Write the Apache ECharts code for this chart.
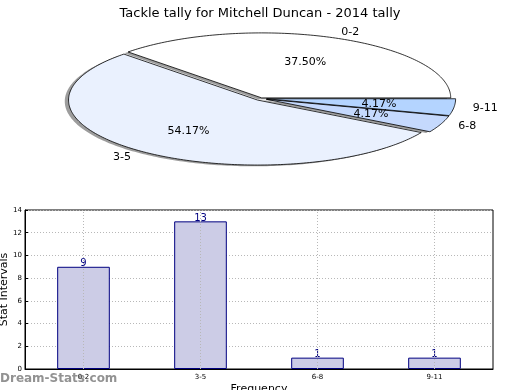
<!DOCTYPE html>
<html>
<head>
<meta charset="utf-8">
<script src="https://cdn.jsdelivr.net/npm/echarts@6/dist/echarts.min.js"></script>
<style>html,body{margin:0;padding:0;background:#fff}#c{width:520px;height:390px}</style>
</head>
<body>
<div id="c"></div>
<script>
// ---- data ----
var titleText = 'Tackle tally for Mitchell Duncan - 2014 tally';
var categories = ['0-2', '3-5', '6-8', '9-11'];
var counts = [9, 13, 1, 1];
var pieLabels = ['0-2', '3-5', '6-8', '9-11'];
var pieValues = [9, 13, 1, 1];
var yTicks = [0, 2, 4, 6, 8, 10, 12, 14];

// ---- styles / geometry (not data) ----
var pieColors = ['#ffffff', '#eaf1fe', '#c5d9fd', '#b4d4ff'];
var pieExplode = [0.01, 0.03, 0.03, 0.03];
var PIE = { cx: 261, cy: 98.5, rx: 189, ry: 65 };
var FONT = 'DejaVu Sans';

var total = pieValues.reduce(function (a, b) { return a + b; }, 0);
var cum = [0];
for (var i = 0; i < pieValues.length; i++) cum.push(cum[i] + pieValues[i]);

function slicePoints(cx, cy, a0, a1) {
  var pts = [[cx, cy]];
  var steps = Math.max(4, Math.ceil((a1 - a0) / 1));
  for (var s = 0; s <= steps; s++) {
    var a = (a0 + (a1 - a0) * s / steps) * Math.PI / 180;
    pts.push([cx + PIE.rx * Math.cos(a), cy - PIE.ry * Math.sin(a)]);
  }
  return pts;
}

function renderPie(params, api) {
  var idx = params.dataIndex;
  var v = api.value(0);
  var a0 = cum[idx] / total * 360;
  var a1 = (cum[idx] + v) / total * 360;
  var mid = (a0 + a1) / 2 * Math.PI / 180;
  var ex = pieExplode[idx];
  var cx = PIE.cx + ex * PIE.rx * Math.cos(mid);
  var cy = PIE.cy - ex * PIE.ry * Math.sin(mid);
  var sx = -0.02 * PIE.rx, sy = 0.02 * PIE.ry;
  var lx = cx + 1.1 * PIE.rx * Math.cos(mid);
  var ly = cy - 1.1 * PIE.ry * Math.sin(mid);
  var px = cx + 0.6 * PIE.rx * Math.cos(mid);
  var py = cy - 0.6 * PIE.ry * Math.sin(mid);
  var pct = (v / total * 100).toFixed(2) + '%';
  return {
    type: 'group',
    children: [
      { type: 'polygon', z2: 0, shape: { points: slicePoints(cx + sx, cy + sy, a0, a1) },
        style: { fill: 'rgba(60,60,60,0.5)', stroke: null } },
      { type: 'polygon', z2: 10, shape: { points: slicePoints(cx, cy, a0, a1) },
        style: { fill: pieColors[idx], stroke: '#000', lineWidth: 0.8 } },
      { type: 'text', z2: 20, x: lx, y: ly,
        style: { text: pieLabels[idx], fill: '#000', font: '11px "' + FONT + '"',
          align: Math.cos(mid) > 0 ? 'left' : 'right', verticalAlign: 'middle' } },
      { type: 'text', z2: 20, x: px, y: py,
        style: { text: pct, fill: '#000', font: '11px "' + FONT + '"',
          align: 'center', verticalAlign: 'middle' } }
    ]
  };
}

var chart = echarts.init(document.getElementById('c'), null, { renderer: 'canvas' });
chart.setOption({
  animation: false,
  backgroundColor: '#fff',
  textStyle: { fontFamily: FONT },
  title: {
    text: titleText, left: 'center', top: 2,
    textStyle: { fontFamily: FONT, fontSize: 13, fontWeight: 'normal', color: '#000' }
  },
  graphic: [{
    type: 'text', left: 0, top: 373, z: 100,
    style: { text: 'Dream-Stats.com', fill: 'rgba(110,110,110,0.75)',
      font: 'bold 12px "' + FONT + '"' }
  }],
  grid: { left: 25, right: 27, top: 210, bottom: 21, show: true, borderColor: '#000', borderWidth: 1,
    containLabel: false, outerBoundsMode: 'none' },
  xAxis: {
    type: 'category', data: categories,
    name: 'Frequency', nameLocation: 'middle', nameGap: 15, nameMoveOverlap: false,
    nameTextStyle: { fontFamily: FONT, fontSize: 11, color: '#000' },
    axisLine: { show: true, lineStyle: { color: '#000' } },
    axisTick: { show: false },
    axisLabel: { fontFamily: FONT, fontSize: 7, color: '#000', margin: 5 },
    splitLine: { show: false }
  },
  yAxis: {
    type: 'value', min: yTicks[0], max: yTicks[yTicks.length - 1], interval: 2,
    name: 'Stat Intervals', nameLocation: 'middle', nameGap: 15, nameMoveOverlap: false,
    nameTextStyle: { fontFamily: FONT, fontSize: 11, color: '#000' },
    axisLine: { show: true, lineStyle: { color: '#000' } },
    axisTick: { show: true, inside: true, length: 3, lineStyle: { color: '#000' } },
    axisLabel: { fontFamily: FONT, fontSize: 7, color: '#000', margin: 3 },
    splitLine: { show: true, lineStyle: { color: '#b8b8b8', type: [1, 2], width: 1 } }
  },
  series: [
    {
      type: 'custom', coordinateSystem: 'none', data: pieValues,
      renderItem: renderPie, silent: true
    },
    {
      type: 'bar', data: counts, barWidth: '45%',
      itemStyle: { color: '#ccccE6', borderColor: '#000080', borderWidth: 1 },
      label: { show: true, position: 'top', distance: -2, color: '#000080',
        fontFamily: FONT, fontSize: 10 },
      markLine: {
        silent: true, symbol: 'none', label: { show: false },
        lineStyle: { color: '#b8b8b8', type: [1, 2], width: 1 },
        data: categories.map(function (c) { return { xAxis: c }; })
      }
    }
  ]
});
</script>
</body>
</html>
